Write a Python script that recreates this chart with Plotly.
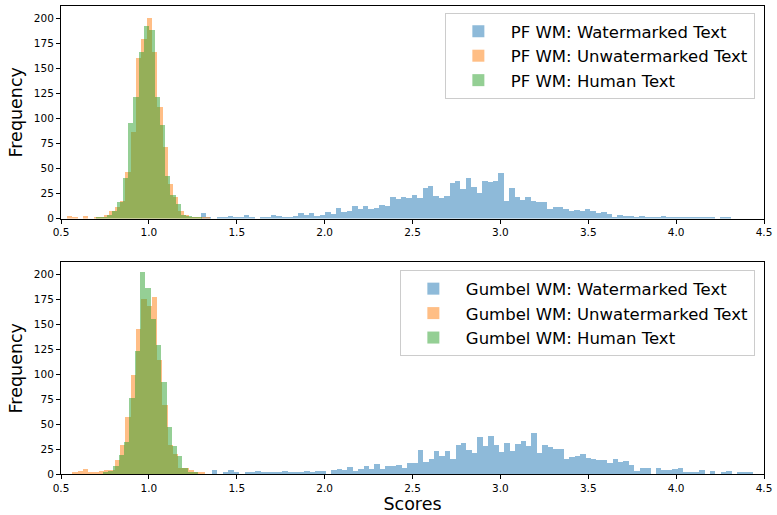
import numpy as np
import plotly.graph_objects as go

# ---------------- data (histogram bin counts) ----------------
# Top panel: PF WM
PF_WM_FIRST_CENTER = 1.310
PF_WM_BIN = 0.0308
PF_WM_COUNTS = [6, 2, 0, 1, 2, 3, 1, 2, 4, 2,
                0, 2, 2, 4, 3, 2, 2, 3, 6, 4,
                6, 3, 4, 7, 5, 11, 7, 8, 13, 10,
                13, 10, 11, 14, 13, 22, 20, 22, 21, 24,
                21, 30, 32, 23, 21, 23, 35, 37, 29, 40,
                31, 26, 37, 36, 37, 45, 18, 30, 22, 19,
                22, 18, 17, 17, 10, 12, 12, 10, 8, 9,
                8, 10, 8, 6, 7, 5, 2, 4, 3, 3,
                2, 3, 2, 2, 1, 3, 2, 1, 1, 2,
                1, 2, 1, 1, 1, 0, 1, 1]

PF_UNWM_FIRST_CENTER = 0.549
PF_UNWM_BIN = 0.0302
PF_UNWM_COUNTS = [3, 1, 0, 3, 0, 2, 2, 4, 8, 12, 18, 46, 86, 160, 179, 200,
                  166, 111, 71, 34, 22, 8, 4, 2, 2, 1, 1]

PF_HUMAN_FIRST_CENTER = 0.715
PF_HUMAN_BIN = 0.0302
PF_HUMAN_COUNTS = [1, 1, 4, 8, 17, 40, 95, 121, 166, 192, 188, 121, 93, 42,
                   24, 15, 4, 3, 1, 1]

# Bottom panel: Gumbel WM
GB_WM_FIRST_CENTER = 1.375
GB_WM_BIN = 0.0308
GB_WM_COUNTS = [4, 0, 1, 4, 2, 0, 1, 2, 3, 2,
                1, 1, 1, 3, 1, 2, 2, 3, 1, 3,
                3, 0, 4, 5, 4, 7, 3, 5, 8, 5,
                10, 5, 8, 8, 9, 6, 11, 11, 24, 12,
                15, 23, 18, 23, 15, 29, 31, 24, 21, 37,
                28, 38, 29, 22, 31, 23, 30, 33, 28, 41,
                21, 29, 27, 25, 25, 15, 17, 18, 20, 16,
                15, 14, 14, 11, 15, 12, 13, 9, 3, 6,
                6, 0, 6, 4, 4, 5, 6, 2, 1, 1,
                4, 0, 3, 0, 1, 3, 0, 1, 2, 1]

GB_UNWM_FIRST_CENTER = 0.579
GB_UNWM_BIN = 0.0302
GB_UNWM_COUNTS = [1, 3, 5, 2, 2, 3, 4, 4, 14, 29, 57, 99, 145, 175, 168, 177,
                  114, 69, 29, 20, 6, 6, 4, 2, 1]

GB_HUMAN_FIRST_CENTER = 0.753
GB_HUMAN_BIN = 0.0302
GB_HUMAN_COUNTS = [1, 3, 8, 19, 32, 76, 123, 202, 186, 155, 129, 92, 47, 28,
                   18, 6, 2, 1]

X_TICKS = [0.5, 1.0, 1.5, 2.0, 2.5, 3.0, 3.5, 4.0, 4.5]
X_TICK_TEXT = ["0.5", "1.0", "1.5", "2.0", "2.5", "3.0", "3.5", "4.0", "4.5"]
Y_TICKS = [0, 25, 50, 75, 100, 125, 150, 175, 200]

COLORS = ["#1f77b4", "#ff7f0e", "#2ca02c"]

SERIES = [
    # (name, first center, bin width, counts, color, axes, legend)
    ("PF WM: Watermarked Text", PF_WM_FIRST_CENTER, PF_WM_BIN, PF_WM_COUNTS, COLORS[0], ("x", "y"), "legend"),
    ("PF WM: Unwatermarked Text", PF_UNWM_FIRST_CENTER, PF_UNWM_BIN, PF_UNWM_COUNTS, COLORS[1], ("x", "y"), "legend"),
    ("PF WM: Human Text", PF_HUMAN_FIRST_CENTER, PF_HUMAN_BIN, PF_HUMAN_COUNTS, COLORS[2], ("x", "y"), "legend"),
    ("Gumbel WM: Watermarked Text", GB_WM_FIRST_CENTER, GB_WM_BIN, GB_WM_COUNTS, COLORS[0], ("x2", "y2"), "legend2"),
    ("Gumbel WM: Unwatermarked Text", GB_UNWM_FIRST_CENTER, GB_UNWM_BIN, GB_UNWM_COUNTS, COLORS[1], ("x2", "y2"), "legend2"),
    ("Gumbel WM: Human Text", GB_HUMAN_FIRST_CENTER, GB_HUMAN_BIN, GB_HUMAN_COUNTS, COLORS[2], ("x2", "y2"), "legend2"),
]

FONT = "DejaVu Sans"

fig = go.Figure()
for name, c0, w, counts, color, (xa, ya), leg in SERIES:
    centers = c0 + w * np.arange(len(counts))
    fig.add_trace(go.Bar(
        x=centers, y=counts, width=w, name=name,
        marker=dict(color=color, line=dict(width=0)),
        opacity=0.5, xaxis=xa, yaxis=ya, legend=leg,
    ))

axis_common = dict(
    showline=True, mirror=True, linecolor="black", linewidth=1,
    ticks="outside", ticklen=4, tickwidth=1, tickcolor="black",
    showgrid=False, zeroline=False,
    tickfont=dict(family=FONT, size=10.5, color="black"),
)

xa = dict(axis_common, range=[0.5, 4.5], tickvals=X_TICKS, ticktext=X_TICK_TEXT)
ya = dict(axis_common, range=[0, 212], tickvals=Y_TICKS,
          title=dict(text="Frequency", font=dict(family=FONT, size=17.5, color="black"), standoff=6))

legend_common = dict(
    font=dict(family=FONT, size=16.5, color="black"),
    bgcolor="rgba(255,255,255,0.8)", bordercolor="#cccccc", borderwidth=1,
    xanchor="right", yanchor="top", x=0.987, itemwidth=55,
)

fig.update_layout(
    width=777, height=515,
    margin=dict(l=61, r=9, t=5, b=41),
    paper_bgcolor="white", plot_bgcolor="white",
    barmode="overlay", bargap=0,
    font=dict(family=FONT, color="black"),
    xaxis=dict(xa, domain=[0, 1], anchor="y"),
    yaxis=dict(ya, domain=[0.5458, 1], anchor="x"),
    xaxis2=dict(xa, domain=[0, 1], anchor="y2",
                title=dict(text="Scores", font=dict(family=FONT, size=17.5, color="black"), standoff=4)),
    yaxis2=dict(ya, domain=[0, 0.452], anchor="x2"),
    legend=dict(legend_common, y=0.985),
    legend2=dict(legend_common, y=0.435),
)

fig.write_html("out.html")
